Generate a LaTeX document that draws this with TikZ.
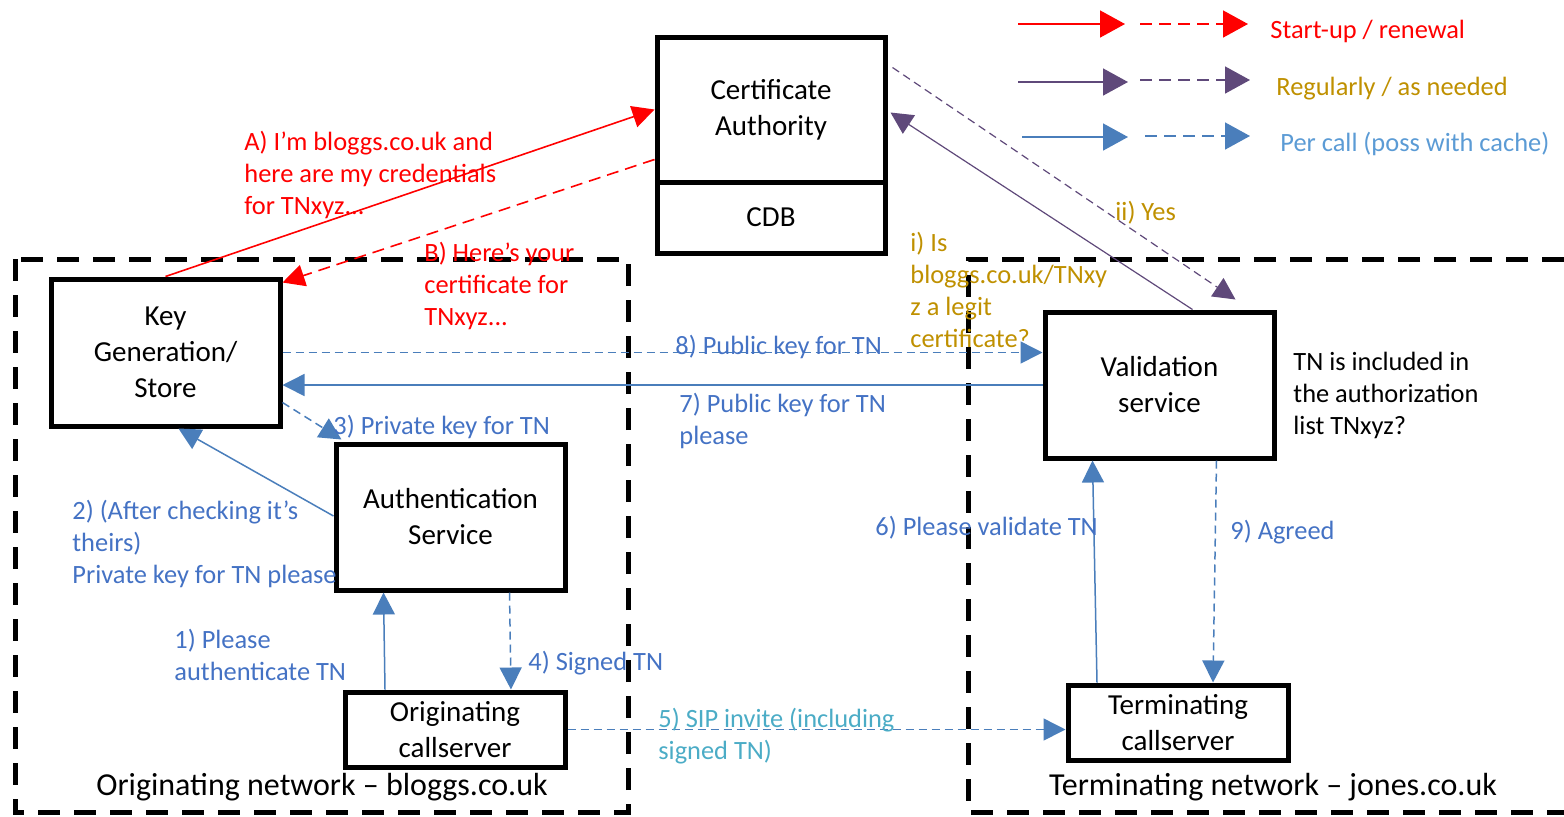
\documentclass[tikz,border=0pt]{standalone}
\usepackage{fontspec}
\setmainfont{Carlito}
\usetikzlibrary{arrows.meta,calc}
\definecolor{cred}{HTML}{FF0000}
\definecolor{cpurple}{HTML}{5F497A}
\definecolor{cgold}{HTML}{BF9000}
\definecolor{cblue}{HTML}{4A7EBB}
\definecolor{cbluetext}{HTML}{4472C4}
\definecolor{clightblue}{HTML}{5B9BD5}
\definecolor{ccyan}{HTML}{4BACC6}
\tikzset{
  box/.style={draw, line width=2.5pt, align=center, font=\fontsize{14.5}{18}\selectfont},
  lbl/.style={anchor=north west, inner sep=0pt, align=left, font=\fontsize{13.2}{16}\selectfont},
  region/.style={line width=2.5pt, dash pattern=on 11pt off 7pt},
  tip/.style={-{Triangle[length=11pt,width=11pt]}},
  bigtip/.style={-{Triangle[length=12.5pt,width=13.5pt]}},
  bdash/.style={dash pattern=on 4pt off 2.5pt},
  rdash/.style={dash pattern=on 6pt off 3.5pt},
}
\begin{document}
\begin{tikzpicture}[x=0.5pt, y=-0.5pt]
\useasboundingbox (0,0) rectangle (1564,816);

% network areas
\draw[region] (15,259) rectangle (628,812);
\draw[region] (1564,259) -- (968,259) -- (968,812) -- (1564,812);
\node[font=\fontsize{16}{19}\selectfont] (orignet) at (322,787) {Originating network -- bloggs.co.uk};
\node[font=\fontsize{16}{19}\selectfont] (termnet) at (1273,787) {Terminating network -- jones.co.uk};

% boxes
\node[box, minimum width=114pt, minimum height=72.5pt] (ca) at (771,109.5) {Certificate\\Authority};
\node[box, minimum width=114pt, minimum height=35.5pt] (cdb) at (771,217.5) {CDB};
\node[box, minimum width=114.5pt, minimum height=73.5pt] (key) at (165.5,352.5) {Key\\Generation/\\Store};
\node[box, minimum width=114.5pt, minimum height=73pt] (auth) at (450.5,517) {Authentication\\Service};
\node[box, minimum width=110pt, minimum height=37.5pt] (orig) at (455,729.5) {Originating\\callserver};
\node[box, minimum width=114.5pt, minimum height=73pt] (val) at (1159.5,385) {Validation\\service};
\node[box, minimum width=110pt, minimum height=37.5pt] (term) at (1178,722.5) {Terminating\\callserver};

% legend
\coordinate (l1a) at (1018,24);  \coordinate (l1b) at (1125,24);
\coordinate (l1c) at (1140,24);  \coordinate (l1d) at (1248,24);
\coordinate (l2a) at (1018,82);  \coordinate (l2b) at (1128,82);
\coordinate (l2c) at (1140,80);  \coordinate (l2d) at (1250,80);
\coordinate (l3a) at (1022,137); \coordinate (l3b) at (1128,137);
\coordinate (l3c) at (1145,136); \coordinate (l3d) at (1250,136);
\draw[bigtip, cred, line width=0.8pt] (l1a) -- (l1b);
\draw[bigtip, cred, line width=0.8pt, rdash] (l1c) -- (l1d);
\draw[bigtip, cpurple, line width=0.8pt] (l2a) -- (l2b);
\draw[bigtip, cpurple, line width=0.8pt, rdash] (l2c) -- (l2d);
\draw[bigtip, cblue, line width=0.8pt] (l3a) -- (l3b);
\draw[bigtip, cblue, line width=0.8pt, rdash] (l3c) -- (l3d);
\node[lbl, text=cred] (leg1) at (1270,20) {Start-up / renewal};
\node[lbl, text=cgold] (leg2) at (1276,77) {Regularly / as needed};
\node[lbl, text=clightblue] (leg3) at (1280,132) {Per call (poss with cache)};

% start-up
\draw[tip, cred, line width=0.8pt] (key.north) -- (ca.west);
\draw[tip, cred, line width=0.8pt, rdash] ($(ca.south west)+(0,-25)$) -- ([yshift=-3pt]key.north east);
\node[lbl, text=cred] (msga) at (244,131) {A) I’m bloggs.co.uk and\\here are my credentials\\for TNxyz...};
\node[lbl, text=cred] (msgb) at (424,242) {B) Here’s your\\certificate for\\TNxyz...};

% regularly
\draw[tip, cpurple, line width=0.6pt] ($(val.north)+(33,0)$) -- ($(ca.east)+(3,3)$);
\draw[tip, cpurple, line width=0.6pt, bdash] ($(ca.north east)+(5,33)$) -- ($(val.north)+(76,-10)$);
\node[lbl, text=cgold] (msgi) at (910,232) {i) Is\\bloggs.co.uk/TNxy\\z a legit\\certificate?};
\node[lbl, text=cgold] (msgii) at (1115,201) {ii) Yes};

% per call
\draw[tip, cblue, line width=0.75pt] ($(orig.north)+(-70,0)$) -- ($(auth.south)+(-67,0)$);
\draw[tip, cblue, line width=0.75pt] ($(auth.west)+(0,-1)$) -- ($(key.south)+(13,0)$);
\draw[tip, cblue, line width=0.75pt, bdash] ($(key.south east)+(0,-26)$) -- ($(auth.north west)+(8,-2)$);
\draw[tip, cblue, line width=0.75pt, bdash] ($(auth.south)+(59,0)$) -- ($(orig.north)+(56,0)$);
\draw[tip, cblue, line width=0.75pt, bdash] (orig.east) -- (term.west |- orig.east);
\draw[tip, cblue, line width=0.75pt] ($(term.north)+(-81,0)$) -- ($(val.south)+(-67,0)$);
\draw[tip, cblue, line width=0.75pt] (val.west) -- (key.east |- val.west);
\draw[tip, cblue, line width=0.75pt, bdash] (key.east) -- (val.west |- key.east);
\draw[tip, cblue, line width=0.75pt, bdash] ($(val.south)+(57,0)$) -- ($(term.north)+(35,0)$);
\node[lbl, text=cbluetext] (msg1) at (174,629) {1) Please\\authenticate TN};
\node[lbl, text=cbluetext] (msg2) at (72,500) {2) (After checking it’s\\theirs)\\Private key for TN please};
\node[lbl, text=cbluetext] (msg3) at (333,415) {3) Private key for TN};
\node[lbl, text=cbluetext] (msg4) at (528,651) {4) Signed TN};
\node[lbl, text=ccyan] (msg5) at (658,708) {5) SIP invite (including\\signed TN)};
\node[lbl, text=cbluetext] (msg6) at (875,516) {6) Please validate TN};
\node[lbl, text=cbluetext] (msg7) at (679,393) {7) Public key for TN\\please};
\node[lbl, text=cbluetext] (msg8) at (675,335) {8) Public key for TN};
\node[lbl, text=cbluetext] (msg9) at (1230,520) {9) Agreed};
\node[lbl] (tnlist) at (1293,352) {TN is included in\\the authorization\\list TNxyz?};
\end{tikzpicture}
\end{document}
